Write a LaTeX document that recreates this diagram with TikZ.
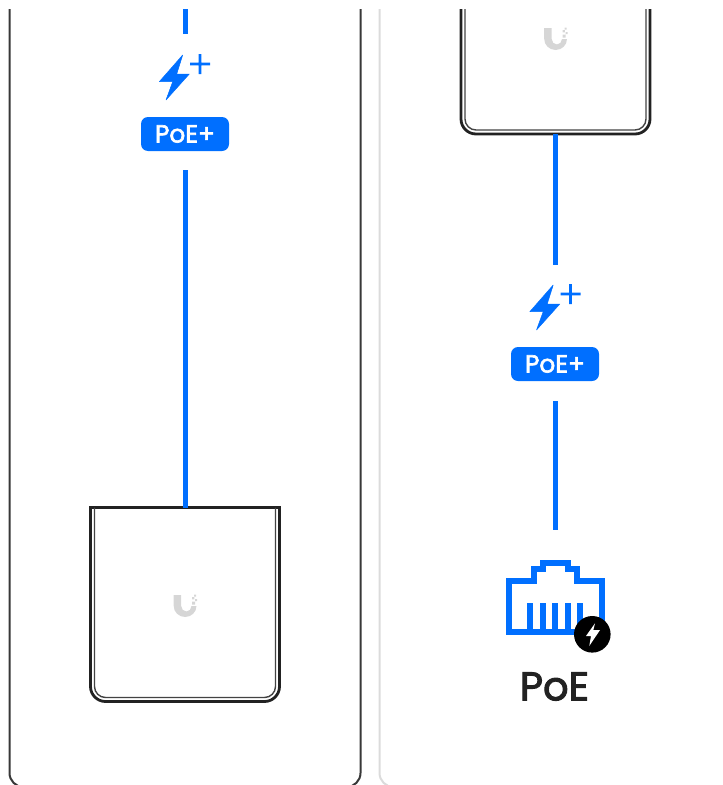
\documentclass[tikz,border=0pt]{standalone}
\usepackage{fontspec}
\setmainfont{Poppins}
\newfontfamily\labelfont[FakeBold=2.4]{Poppins}
\definecolor{wireblue}{HTML}{006FFF}
\definecolor{ink}{HTML}{222222}
\definecolor{logogray}{HTML}{D6D6D6}
\newlength{\upx}
\setlength{\upx}{0.75pt}
\tikzset{
  wire/.style={draw=wireblue,line width=5\upx},
  panel/.style={line width=2\upx,rounded corners=14\upx},
  devout/.style={draw=ink,line width=2.8\upx,rounded corners=15\upx},
  devtop/.style={draw=ink,line width=3\upx},
  devin/.style={draw=ink!85,line width=1.4\upx,rounded corners=11\upx},
  devbox/.style={inner sep=0,outer sep=0,minimum width=189\upx,minimum height=194\upx},
  badge/.style={fill=wireblue,rounded corners=7\upx,text=white,inner sep=0,outer sep=0,minimum width=88\upx,minimum height=34\upx,font=\labelfont\fontsize{18.6pt}{20pt}\selectfont},
  boltfill/.style={fill=wireblue,draw=wireblue,line width=0.5\upx,line join=round},
  rj/.style={draw=wireblue,line width=6\upx,miter limit=10},
}
\newcommand{\drawlogo}[2]{%
  \begin{scope}[shift={(#1,#2)}]
    \fill[logogray] (-11.3,-11) -- (-3.8,-11) -- (-3.8,0) arc[start angle=180,end angle=0,x radius=5.15,y radius=5.5] -- (11.5,0) arc[start angle=0,end angle=180,x radius=11.4,y radius=11] -- cycle;
    \fill[logogray] (9,-11.5) rectangle +(2,2) (7,-9) rectangle +(2.4,2.4) (10,-7) rectangle +(2,2) (7,-4.5) rectangle +(3,3);
  \end{scope}}
\newcommand{\drawbolt}[2]{%
  \begin{scope}[shift={(#1,#2)}]
    \fill[boltfill] (22.7,-5) -- (-0.7,21.7) -- (12.7,21.7) -- (6,40) -- (29.3,14) -- (16.7,14) -- cycle;
    \fill[wireblue] (38.6,-6) rectangle (41.4,14) (30,2.6) rectangle (50,5.4);
  \end{scope}}
\begin{document}
\begin{tikzpicture}[x=\upx,y=-\upx]
\useasboundingbox (0,0) rectangle (723,785);
\clip (0,9) rectangle (723,785);
% panels
\draw[panel,draw=ink!90] (9.5,-20) -- (9.5,787) -- (360.5,787) -- (360.5,-20);
\draw[panel,draw=black!14] (379.5,-20) -- (379.5,787) -- (760,787);
% devices
\node[devbox] (devL) at (185,604.5) {};
\draw[devout] (devL.north west) -- (devL.south west) -- (devL.south east) -- (devL.north east);
\draw[devtop] ([xshift=-1.4\upx]devL.north west) -- ([xshift=1.4\upx]devL.north east);
\draw[devin] ([xshift=4\upx]devL.north west) -- ([xshift=4\upx,yshift=4\upx]devL.south west) -- ([xshift=-4\upx,yshift=4\upx]devL.south east) -- ([xshift=-4\upx]devL.north east);
\drawlogo{185}{606}
\node[devbox] (devR) at (555.5,37) {};
\draw[devout] (devR.north west) -- (devR.south west) -- (devR.south east) -- (devR.north east);
\draw[devin] ([xshift=4\upx]devR.north west) -- ([xshift=4\upx,yshift=4\upx]devR.south west) -- ([xshift=-4\upx,yshift=4\upx]devR.south east) -- ([xshift=-4\upx]devR.north east);
\drawlogo{555.5}{39}
% left column
\coordinate (topL) at (185,9);
\coordinate (topLend) at (185,34);
\draw[wire] (topL) -- (topLend);
\drawbolt{160}{60}
\node[badge] (badgeL) at (185,134) {PoE+};
\draw[wire,shorten <=19\upx] (badgeL.south) -- (devL.north);
% right column
\node[badge] (badgeR) at (555,364) {PoE+};
\coordinate (icontop) at (555,530);
\draw[wire,shorten >=82\upx] (devR.south -| badgeR.north) -- (badgeR.north);
\draw[wire,shorten <=20\upx] (badgeR.south) -- (icontop);
\drawbolt{530.5}{290}
% RJ45 icon
\draw[rj] (508.7,631.5) -- (508.7,581) -- (533.7,581) -- (533.7,569) -- (543,569) -- (543,563) -- (567.7,563) -- (567.7,569) -- (577.4,569) -- (577.4,581) -- (602,581) -- (602,631.5) -- cycle;
\foreach \px in {530.3,543,555.3,567.7,580}{\fill[wireblue] (\px-3,603.3) rectangle (\px+3,632);}
\node[circle,fill=black,inner sep=0,outer sep=0,minimum size=36.6\upx] (surge) at (592.3,634.3) {};
\fill[white] (595,623.3) -- (586,636) -- (591,636) -- (589.3,646) -- (600,630) -- (593.3,630) -- cycle;
\node[text=ink,inner sep=0,font=\labelfont\fontsize{30pt}{34pt}\selectfont] (poe) at (554.5,686.5) {PoE};
\end{tikzpicture}
\end{document}
